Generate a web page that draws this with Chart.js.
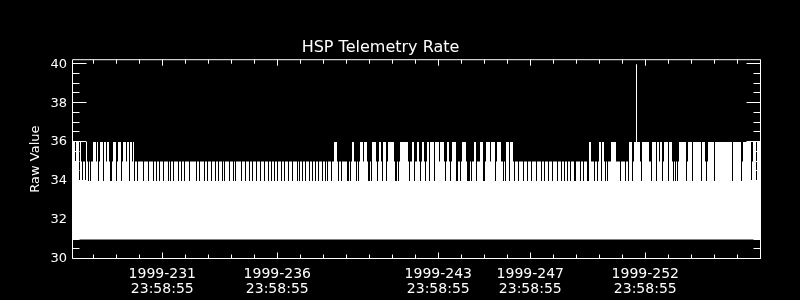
<!DOCTYPE html>
<html>
<head>
<meta charset="utf-8">
<title>HSP Telemetry Rate</title>
<script src="https://cdn.jsdelivr.net/npm/chart.js@4.4.1/dist/chart.umd.min.js"></script>
<style>
  html, body { margin: 0; padding: 0; background: #000; }
  canvas { display: block; }
</style>
</head>
<body>
<canvas id="hsp-rate-chart" width="800" height="300"></canvas>
<script>
// HSP telemetry rate, one reading per plotted column (1/23 day apart)
var dayStart = 227.075;
var dayStep = 1 / 23;
var rawValue = [
    35,36,36,35,36,36,36,34,36,35,
    34,35,35,34,36,35,34,35,34,35,
    35,36,36,36,35,36,34,35,36,36,
    36,34,36,36,35,36,36,35,34,34,
    35,36,36,36,34,35,36,36,36,34,
    35,36,36,36,35,36,36,34,36,36,
    35,36,34,35,35,34,35,35,35,35,
    35,34,35,35,35,35,34,35,35,35,
    35,34,35,35,34,35,35,34,35,35,
    35,34,35,35,35,35,34,35,34,35,
    35,34,35,35,35,35,34,35,35,34,
    35,35,34,35,35,35,35,34,35,35,
    35,35,35,35,34,35,35,34,35,35,
    35,35,34,35,35,34,35,35,35,34,
    35,35,35,34,35,35,34,35,35,35,
    34,35,34,35,35,35,35,34,35,35,
    35,34,35,34,35,35,35,35,35,34,
    35,35,35,34,35,35,35,34,35,35,
    34,35,35,35,34,35,35,35,34,35,
    35,35,34,35,35,35,34,35,35,34,
    35,35,34,35,35,34,35,35,35,34,
    35,35,34,35,35,35,34,35,35,35,
    34,35,35,35,35,34,35,34,35,35,
    34,35,35,34,35,35,35,34,35,35,
    34,35,35,34,35,35,34,35,35,35,
    34,35,35,34,35,34,35,35,35,34,
    35,35,36,36,36,35,34,35,35,34,
    35,35,35,35,35,34,34,35,34,35,
    36,36,35,35,34,35,34,35,36,36,
    36,35,36,36,36,35,34,34,35,34,
    36,36,36,36,35,34,35,36,36,35,
    34,36,36,36,34,35,36,36,36,36,
    36,36,35,34,34,35,34,35,36,36,
    36,36,36,36,36,36,35,34,35,35,
    36,36,34,35,35,36,36,35,34,35,
    36,36,35,34,35,36,36,34,36,36,
    36,36,34,36,36,36,36,35,36,36,
    36,36,35,34,35,36,36,35,34,35,
    36,36,36,36,34,34,35,35,34,35,
    36,36,36,36,35,34,34,34,35,34,
    35,35,36,36,34,35,35,35,36,36,
    36,34,34,35,36,36,36,36,35,36,
    36,36,36,34,35,36,36,36,36,35,
    35,34,35,34,36,36,36,34,36,36,
    36,35,34,35,35,35,34,35,35,35,
    35,34,35,35,35,34,35,35,35,34,
    35,35,35,35,34,35,35,35,35,34,
    35,35,34,35,35,35,34,35,35,35,
    34,35,35,35,35,34,35,35,35,34,
    35,35,34,35,35,34,35,35,34,35,
    35,35,34,34,35,35,35,35,34,35,
    35,34,35,35,35,34,34,36,36,35,
    35,35,34,35,35,34,35,36,36,34,
    36,36,35,34,35,34,35,35,35,36,
    36,36,36,36,35,35,35,35,34,35,
    35,35,35,34,35,35,34,36,36,36,
    34,35,36,36,40,36,36,36,35,34,
    36,36,36,36,36,36,36,35,35,34,
    36,36,36,36,34,36,36,35,36,36,
    34,35,36,36,36,36,34,36,36,36,
    35,34,35,34,35,34,35,36,36,36,
    36,36,36,36,34,35,36,36,36,36,
    34,36,36,36,36,36,36,36,36,34,
    36,36,36,35,34,35,36,36,36,36,
    36,36,34,36,36,36,36,36,36,36,
    36,36,36,36,36,36,36,36,36,36,
    34,36,36,36,36,36,36,36,36,34,
    35,36,36,36,36,36,36,36,36,34,
    35,36,36,36,34,36,36,36
];
var baseValue = 31;

// axes
var yTicks = [30, 32, 34, 36, 38, 40];
var dayTicks = [231, 236, 243, 247, 252];
var dayLabels = ['1999-231', '1999-236', '1999-243', '1999-247', '1999-252'];
var tickTime = '23:58:55';

var fontFamily = 'DejaVu Sans';
Chart.defaults.font.family = fontFamily;
Chart.defaults.color = '#fff';

var points = rawValue.map(function (v, i) {
    return { x: dayStart + i * dayStep, y: v };
});
// close the last step
points.push({ x: dayStart + rawValue.length * dayStep, y: rawValue[rawValue.length - 1] });

// IDL style box with inward ticks
var frameTicks = {
    id: 'frameTicks',
    afterDatasetsDraw: function (chart) {
        var ctx = chart.ctx;
        var a = chart.chartArea;
        var xs = chart.scales.x;
        var ys = chart.scales.y;
        var L = a.left + 0.5, R = a.right - 0.5, T = a.top + 0.5, B = a.bottom - 0.5;
        ctx.save();
        ctx.strokeStyle = '#fff';
        ctx.lineWidth = 1;
        ctx.beginPath();
        ctx.rect(L, T, R - L, B - T);
        for (var v = 30; v <= 40; v += 0.5) {
            var py = Math.round(ys.getPixelForValue(v)) - 0.5;
            var len = v % 2 === 0 ? 14 : 7;
            ctx.moveTo(L, py); ctx.lineTo(L + len, py);
            ctx.moveTo(R, py); ctx.lineTo(R - len, py);
        }
        for (var d = Math.ceil(xs.min); d < xs.max; d++) {
            var px = Math.round(xs.getPixelForValue(d)) + 0.5;
            var tl = dayTicks.indexOf(d) >= 0 ? 6 : 4;
            ctx.moveTo(px, B); ctx.lineTo(px, B - tl);
            ctx.moveTo(px, T); ctx.lineTo(px, T + tl);
        }
        ctx.stroke();
        ctx.restore();
    }
};

new Chart(document.getElementById('hsp-rate-chart'), {
    type: 'line',
    data: {
        datasets: [
            {
                label: 'Raw Value',
                data: points,
                stepped: 'before',
                borderColor: 'rgba(0,0,0,0)',
                borderWidth: 0,
                backgroundColor: '#fff',
                fill: { value: baseValue },
                pointRadius: 0,
                tension: 0
            }
        ]
    },
    plugins: [frameTicks],
    options: {
        responsive: false,
        animation: false,
        layout: { padding: { left: 0, right: 39, top: 0, bottom: 0 } },
        plugins: {
            legend: { display: false },
            tooltip: { enabled: false },
            title: {
                display: true,
                text: 'HSP Telemetry Rate',
                color: '#fff',
                font: { family: fontFamily, size: 16, weight: 'normal' },
                padding: { top: 38, bottom: 2 }
            }
        },
        scales: {
            x: {
                type: 'linear',
                min: dayStart,
                max: dayStart + 689 * dayStep,
                grid: { display: false, drawTicks: false },
                border: { display: false },
                afterBuildTicks: function (scale) {
                    scale.ticks = dayTicks.map(function (d) { return { value: d }; });
                },
                afterFit: function (scale) { scale.height = 41; },
                ticks: {
                    autoSkip: false,
                    maxRotation: 0,
                    padding: 8,
                    color: '#fff',
                    font: { family: fontFamily, size: 14, lineHeight: 1.05 },
                    callback: function (value) {
                        var i = dayTicks.indexOf(value);
                        return i >= 0 ? [dayLabels[i], tickTime] : '';
                    }
                }
            },
            y: {
                min: 30,
                max: 30 + 200 / 19.5,
                grid: { display: false, drawTicks: false },
                border: { display: false },
                afterBuildTicks: function (scale) {
                    scale.ticks = yTicks.map(function (v) { return { value: v }; });
                },
                afterFit: function (scale) { scale.width = 72; },
                ticks: {
                    padding: 5,
                    color: '#fff',
                    font: { family: fontFamily, size: 13 }
                },
                title: {
                    display: true,
                    text: 'Raw Value',
                    color: '#fff',
                    font: { family: fontFamily, size: 13 },
                    padding: { top: 28, bottom: 0 }
                }
            }
        }
    }
});
</script>
</body>
</html>
